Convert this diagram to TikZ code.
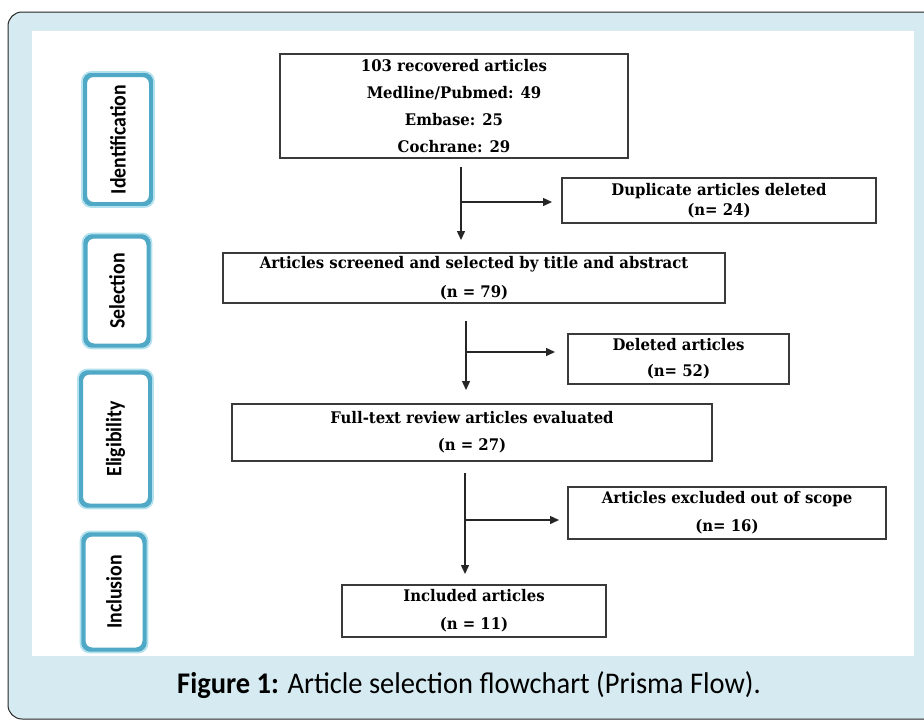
\documentclass[tikz,border=0pt]{standalone}
\usepackage{fontspec}
\usetikzlibrary{arrows.meta}
\newfontfamily\boxfont{DejaVu Serif}[FakeStretch=0.93]
\newfontfamily\capfont{Carlito}[FakeStretch=0.95]
\newfontfamily\phasefont{Carlito}[FakeStretch=0.9]
\definecolor{framebg}{HTML}{D6EBF1}
\definecolor{tealdark}{HTML}{4FA8C6}
\definecolor{teallight}{HTML}{B3E1EE}
\definecolor{boxline}{HTML}{3A3A3A}
\tikzset{
  flowbox/.style={draw=boxline, line width=1.4pt, fill=white, inner sep=0pt, align=center,
    font=\boxfont\bfseries\fontsize{16}{27}\selectfont},
  phasebox/.style={draw=tealdark, line width=5pt, rounded corners=9pt, fill=white, inner sep=0pt},
  phaseinner/.style={draw=teallight, line width=1.6pt, rounded corners=9pt},
  phasetext/.style={rotate=90, font=\phasefont\bfseries\fontsize{22}{24}\selectfont, inner sep=0pt},
  flowarrow/.style={draw=black!85, line width=1.4pt, -{Triangle[length=9pt,width=8pt]}},
  flowline/.style={draw=black!85, line width=1.4pt}
}
\begin{document}
\begin{tikzpicture}[x=1pt,y=-1pt]
\useasboundingbox (0,0) rectangle (924,721);
% outer frame
\draw[fill=framebg, draw=black!85, line width=1pt, rounded corners=14pt] (8,12) rectangle (960,719);
\fill[white] (32,31) rectangle (914,656);

% phase boxes
\node[phasebox, minimum width=67pt, minimum height=130pt] (pid) at (118,139.5) {};
\draw[phaseinner] (pid.south west) rectangle (pid.north east);
\node[phasetext] (tid) at (pid.center) {Identification};

\node[phasebox, minimum width=64pt, minimum height=110pt] (psel) at (117,291) {};
\draw[phaseinner] (psel.south west) rectangle (psel.north east);
\node[phasetext] (tsel) at (psel.center) {Selection};

\node[phasebox, minimum width=70pt, minimum height=134pt] (pel) at (115.5,439) {};
\draw[phaseinner] (pel.south west) rectangle (pel.north east);
\node[phasetext] (tel) at (pel.center) {Eligibility};

\node[phasebox, minimum width=62pt, minimum height=116pt] (pin) at (114,592) {};
\draw[phaseinner] (pin.south west) rectangle (pin.north east);
\node[phasetext] (tin) at (pin.center) {Inclusion};

% flow boxes
\node[flowbox, minimum width=348pt, minimum height=104pt] (rec) at (454,106)
  {103 recovered articles\\Medline/Pubmed: 49\\Embase: 25\\Cochrane: 29};
\node[flowbox, minimum width=314pt, minimum height=45pt, font=\boxfont\bfseries\fontsize{16}{20}\selectfont] (dup) at (719,200.5)
  {Duplicate articles deleted\\(n= 24)};
\node[flowbox, minimum width=502pt, minimum height=50pt, font=\boxfont\bfseries\fontsize{16}{29}\selectfont] (scr) at (474,278)
  {Articles screened and selected by title and abstract\\(n = 79)};
\node[flowbox, minimum width=221pt, minimum height=50pt, font=\boxfont\bfseries\fontsize{16}{26}\selectfont] (del) at (678.5,359)
  {Deleted articles\\(n= 52)};
\node[flowbox, minimum width=480pt, minimum height=57pt] (full) at (472,432.5)
  {Full-text review articles evaluated\\(n = 27)};
\node[flowbox, minimum width=318pt, minimum height=52pt, font=\boxfont\bfseries\fontsize{16}{28}\selectfont] (exc) at (727,513)
  {Articles excluded out of scope\\(n= 16)};
\node[flowbox, minimum width=264pt, minimum height=52pt, font=\boxfont\bfseries\fontsize{16}{28}\selectfont] (inc) at (474,611)
  {Included articles\\(n = 11)};

% connectors
\coordinate (a1s) at (461,167);
\coordinate (a1e) at (461,240);
\coordinate (a1b) at (461,202);
\coordinate (a1h) at (552,202);
\draw[flowarrow] (a1s) -- (a1e);
\draw[flowarrow] (a1b) -- (a1h);

\coordinate (a2s) at (466,321);
\coordinate (a2e) at (466,390);
\coordinate (a2b) at (466,352);
\coordinate (a2h) at (555,352);
\draw[flowarrow] (a2s) -- (a2e);
\draw[flowarrow] (a2b) -- (a2h);

\coordinate (a3s) at (465,473);
\coordinate (a3e) at (465,574);
\coordinate (a3b) at (465,520);
\coordinate (a3h) at (559,520);
\draw[flowarrow] (a3s) -- (a3e);
\draw[flowarrow] (a3b) -- (a3h);

% caption
\node[font=\capfont\fontsize{30}{32}\selectfont, inner sep=0pt] (cap) at (469,685)
  {\textbf{Figure 1:} Article selection flowchart (Prisma Flow).};
\end{tikzpicture}
\end{document}
